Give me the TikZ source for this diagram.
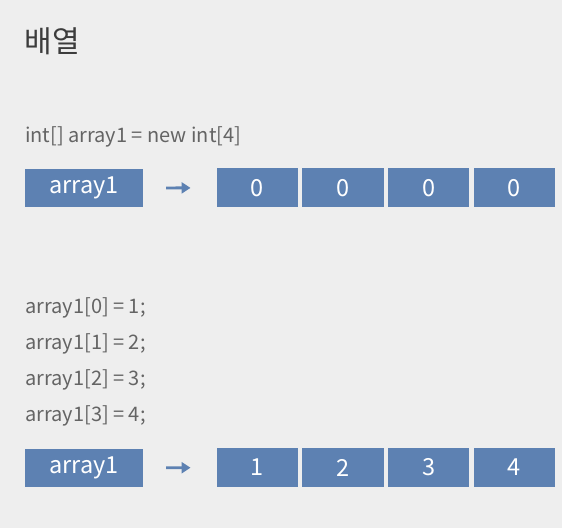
\documentclass[tikz,border=0pt]{standalone}
\usepackage{fontspec}
\setmainfont{Noto Sans CJK KR}
\usetikzlibrary{arrows.meta,positioning}

\definecolor{bgray}{RGB}{238,238,238}
\definecolor{cellblue}{RGB}{93,129,178}
\definecolor{codegray}{RGB}{100,100,100}
\definecolor{titlegray}{RGB}{60,60,60}

\tikzset{
	refbox/.style={fill=cellblue, text=white, inner sep=0pt,
		minimum width=118pt, minimum height=38pt, font=\fontsize{23.5}{23.5}\selectfont},
	cellbox/.style={fill=cellblue, text=white, inner sep=0pt,
		minimum width=81.5pt, minimum height=39pt, font=\fontsize{23.5}{23.5}\selectfont},
	codeline/.style={anchor=base west, inner sep=0pt, text=codegray,
		font=\fontsize{20}{20}\selectfont},
	pointto/.style={-{Triangle[length=9pt,width=11pt]}, line width=2.8pt, draw=cellblue,
		shorten <=23pt, shorten >=26pt},
}

\begin{document}
\begin{tikzpicture}[x=1pt, y=-1pt]
	
	% 배경
	\fill[bgray] (0,0) rectangle (562,528);
	\useasboundingbox (0,0) rectangle (562,528);
	
	% 제목
	\node[text=titlegray, font=\fontsize{30}{30}\selectfont, inner sep=0pt] (title) at (52.5,41) {배열};
	
	% 선언
	\node[codeline] (decl) at (25,142) {int[] array1 = new int[4]};
	\node[refbox] (ref1) at (84,188) {array1};
	\foreach \v [count=\i] in {0,0,0,0}
		\node[cellbox] (c1\i) at ({257.5+85.6*(\i-1)},187.8) {\v};
	\draw[pointto] (ref1) -- (c11); % 참조
	
	% 값 넣기
	\foreach \v [count=\i] in {1,2,3,4}
		\node[codeline] (set\i) at (25,{313.3+36.1*(\i-1)}) {array1[\the\numexpr\i-1\relax] = \v;};
	\node[refbox] (ref2) at (84,468) {array1};
	\foreach \v [count=\i] in {1,2,3,4}
		\node[cellbox] (c2\i) at ({257.5+85.6*(\i-1)},467.5) {\v};
	\draw[pointto] (ref2) -- (c21); % 참조
	
\end{tikzpicture}
\end{document}
